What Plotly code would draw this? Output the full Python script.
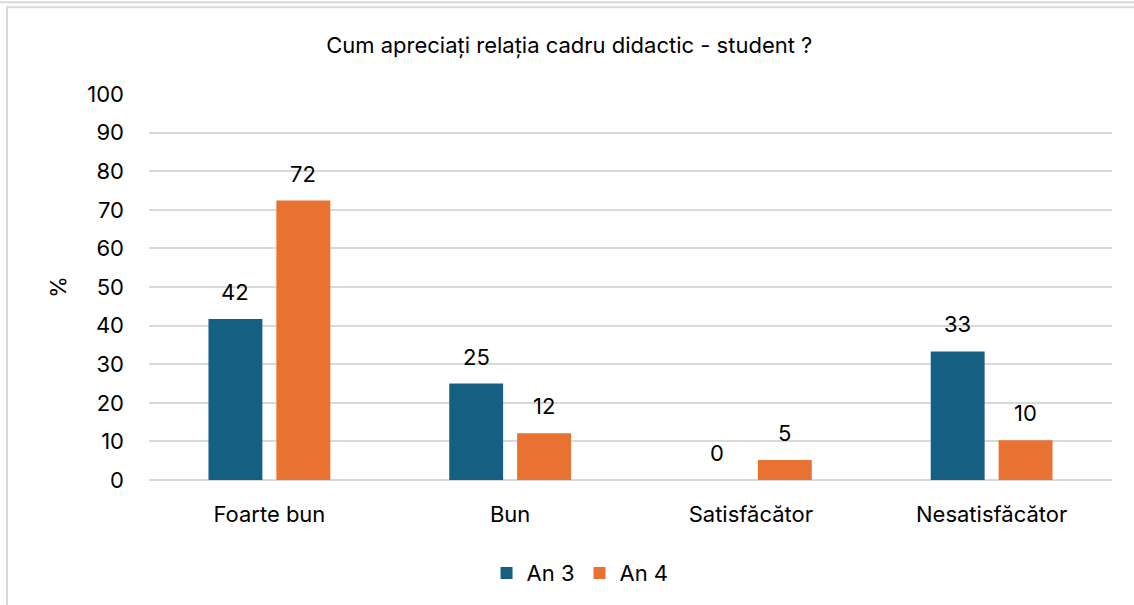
import plotly.graph_objects as go

categories = ["Foarte bun", "Bun", "Satisfăcător", "Nesatisfăcător"]
an3_vals = [41.7, 25.0, 0.0, 33.3]
an4_vals = [72.4, 12.1, 5.2, 10.3]
y_ticks = [0, 10, 20, 30, 40, 50, 60, 70, 80, 90, 100]

FONT = "Inter, Liberation Sans, Arial, sans-serif"
BLUE = "#156082"
ORANGE = "#E97132"
GRID = "#D9D9D9"

fig = go.Figure()
fig.add_trace(go.Bar(
    name="An 3", x=categories, y=an3_vals,
    marker=dict(color=BLUE, line=dict(width=0)),
))
fig.add_trace(go.Bar(
    name="An 4", x=categories, y=an4_vals,
    marker=dict(color=ORANGE, line=dict(width=0)),
))

# etichete de date deasupra barelor
annotations = []
for vals, shift in ((an3_vals, -34), (an4_vals, 34)):
    for cat, v in zip(categories, vals):
        annotations.append(dict(
            x=cat, y=v, xref="x", yref="y", text=f"{v:.0f}",
            showarrow=False, xshift=shift, yshift=27, yanchor="middle",
            font=dict(family=FONT, size=22, color="#000000"),
        ))

fig.update_layout(
    width=1134, height=605,
    margin=dict(l=149, r=22, t=94, b=124),
    paper_bgcolor="white", plot_bgcolor="white",
    barmode="group", bargap=0.436, bargroupgap=0.206,
    title=dict(text="Cum apreciați relația cadru didactic - student ?",
               x=0.502, xref="container", xanchor="center",
               y=1 - 45 / 605, yref="container", yanchor="middle",
               font=dict(family=FONT, size=22, color="#000000")),
    font=dict(family=FONT, size=22, color="#000000"),
    xaxis=dict(showgrid=False, showline=False, ticks="",
               ticklabelstandoff=19,
               tickfont=dict(size=22, color="#000000")),
    yaxis=dict(range=[0, 100], tickvals=y_ticks, showgrid=True,
               gridcolor=GRID, gridwidth=1.5, zeroline=True,
               zerolinecolor=GRID, zerolinewidth=1.5, showline=False,
               ticks="", ticklabelstandoff=24,
               tickfont=dict(size=22, color="#000000"),
               title=dict(text="%", standoff=14,
                          font=dict(size=22, color="#000000"))),
    legend=dict(orientation="h", x=0.4476, xanchor="center",
                y=-0.238, yanchor="middle",
                font=dict(size=22, color="#000000"),
                itemwidth=30, tracegroupgap=0),
    annotations=annotations,
    shapes=[
        dict(type="rect", xref="paper", yref="paper",
             x0=(7 - 149) / 963, x1=(1140 - 149) / 963,
             y0=1 + (94 - 7) / 387, y1=-(620 - 481) / 387,
             line=dict(color=GRID, width=2), layer="below"),
        dict(type="line", xref="paper", yref="paper",
             x0=-0.2, x1=1.1, y0=1 + (94 - 2) / 387, y1=1 + (94 - 2) / 387,
             line=dict(color=GRID, width=2), layer="below"),
    ],
)

fig.write_html("out.html", config={"displayModeBar": False},
               post_script="document.body.style.margin='0';")
